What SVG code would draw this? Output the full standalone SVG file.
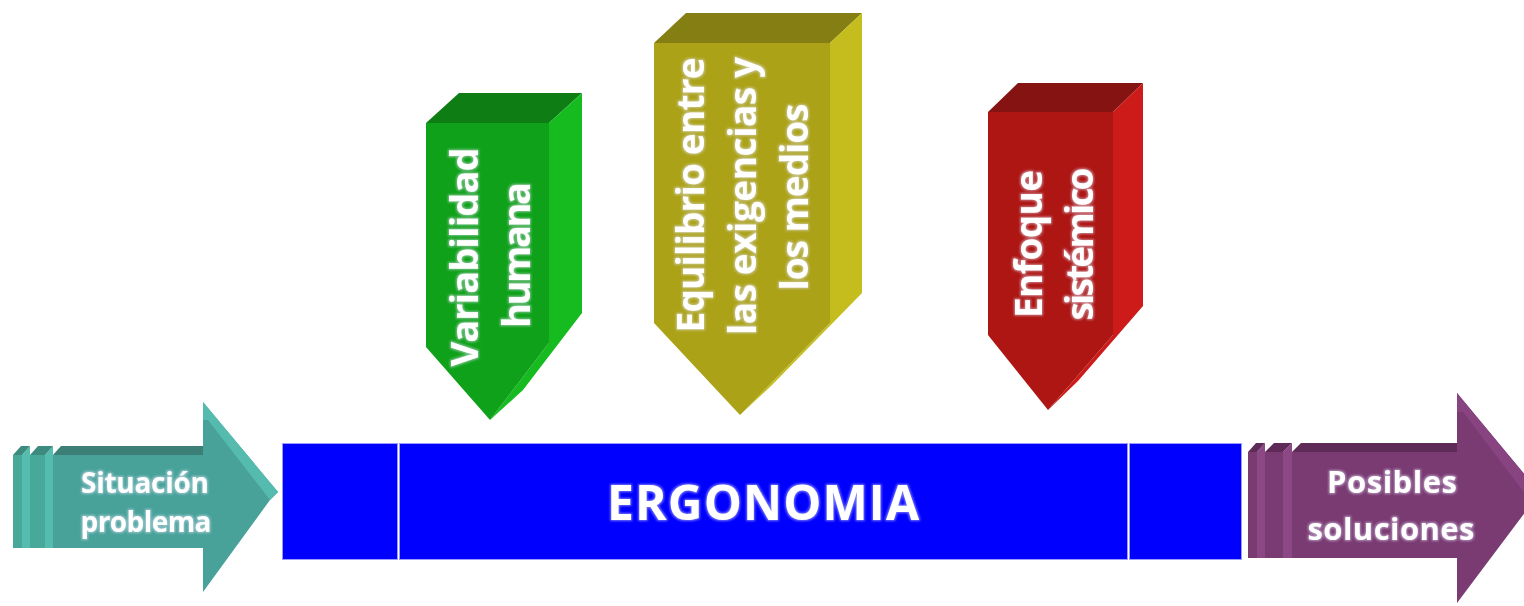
<svg xmlns="http://www.w3.org/2000/svg" width="1524" height="606" viewBox="0 0 1524 606">
<defs>
<style>
.lbl{font-family:"Open Sans","Liberation Sans",sans-serif;font-weight:bold;fill:#ffffff;text-anchor:middle;}
.glow{filter:url(#glow);}
.bar{fill:#0000ff;stroke:#9a9aff;stroke-width:1;}
</style>
<filter id="glow" x="-10%" y="-20%" width="120%" height="140%">
<feMorphology in="SourceAlpha" operator="dilate" radius="1" result="d"/>
<feGaussianBlur in="d" stdDeviation="1" result="b"/>
<feFlood flood-color="#e8e8ff" flood-opacity="0.5"/>
<feComposite in2="b" operator="in" result="g"/>
<feMerge><feMergeNode in="g"/><feMergeNode in="SourceGraphic"/></feMerge>
</filter>
</defs>
<rect width="1524" height="606" fill="#ffffff"/>

<g id="ergonomia">
<rect class="bar" x="282.5" y="443.5" width="115" height="116"/>
<rect class="bar" x="399.5" y="443.5" width="728" height="116"/>
<rect class="bar" x="1129.5" y="443.5" width="112" height="116"/>
<text class="lbl glow" x="763" y="520" font-size="48" textLength="312" lengthAdjust="spacing">ERGONOMIA</text>
</g>

<g id="situacion">
<polygon points="13,455 22,455 22,548 13,548" fill="#48a89a"/>
<polygon points="22,455 30,446 30,548 22,548" fill="#55bdaf"/>
<polygon points="13,455 21,446 30,446 22,455" fill="#3d8a7f"/>
<polygon points="30,455 45,455 45,548 30,548" fill="#48a89a"/>
<polygon points="45,455 53,446 53,548 45,548" fill="#55bdaf"/>
<polygon points="30,455 38,446 53,446 45,455" fill="#3d8a7f"/>
<polygon points="53,455 61,446 205,446 205,455" fill="#3b7f76"/>
<rect x="53" y="455" width="152" height="93" fill="#48a29a"/>
<polygon points="203,402 278,492 270,500 203,592" fill="#48a29a"/>
<polygon points="203,402 278,492 270,500 208,420 203,420" fill="#55bbae"/>
<text class="lbl glow" x="145" y="493" font-size="28" textLength="128" lengthAdjust="spacing">Situación</text>
<text class="lbl glow" x="146" y="532" font-size="28" textLength="131" lengthAdjust="spacing">problema</text>
</g>

<g id="posibles">
<polygon points="1248,452 1257,452 1257,558 1248,558" fill="#7a3a72"/>
<polygon points="1257,452 1265,443 1265,558 1257,558" fill="#8b4884"/>
<polygon points="1248,452 1256,443 1265,443 1257,452" fill="#5e2b58"/>
<polygon points="1265,452 1283,452 1283,558 1265,558" fill="#7a3a72"/>
<polygon points="1283,452 1292,443 1292,558 1283,558" fill="#8b4884"/>
<polygon points="1265,452 1274,443 1292,443 1283,452" fill="#5e2b58"/>
<polygon points="1292,452 1301,443 1459,443 1459,452" fill="#5e2b58"/>
<rect x="1292" y="452" width="167" height="106" fill="#7a3a72"/>
<polygon points="1457,393 1540,493 1532,503 1457,603" fill="#7a3a72"/>
<polygon points="1457,393 1540,493 1532,503 1463,412 1457,412" fill="#874480"/>
<text class="lbl glow" x="1392" y="493" font-size="31" textLength="130" lengthAdjust="spacing">Posibles</text>
<text class="lbl glow" x="1391" y="540" font-size="31" textLength="167" lengthAdjust="spacing">soluciones</text>
</g>

<g id="variabilidad">
<polygon points="426,123 459,93 582,93 549,123" fill="#0e7e14"/>
<polygon points="549,123 582,93 582,313 523,390 490,420 549,343" fill="#16bb20"/>
<polygon points="426,123 549,123 549,343 490,420 426,347" fill="#10a11a"/>
<g transform="translate(478,257) rotate(-90)"><text class="lbl glow" x="0" y="0" font-size="38" textLength="219" lengthAdjust="spacing">Variabilidad</text></g>
<g transform="translate(530,255) rotate(-90)"><text class="lbl glow" x="0" y="0" font-size="38" textLength="146" lengthAdjust="spacing">humana</text></g>
</g>

<g id="equilibrio">
<polygon points="654,43 686,13 862,13 830,43" fill="#857e13"/>
<polygon points="830,43 862,13 862,293 772,385 740,415 830,323" fill="#c5bd1d"/>
<polygon points="654,43 830,43 830,323 740,415 654,323" fill="#aba218"/>
<g transform="translate(704,195) rotate(-90)"><text class="lbl glow" x="0" y="0" font-size="37" textLength="275" lengthAdjust="spacing">Equilibrio entre</text></g>
<g transform="translate(756,196) rotate(-90)"><text class="lbl glow" x="0" y="0" font-size="37" textLength="278" lengthAdjust="spacing">las exigencias y</text></g>
<g transform="translate(808,197) rotate(-90)"><text class="lbl glow" x="0" y="0" font-size="37" textLength="187" lengthAdjust="spacing">los medios</text></g>
</g>

<g id="enfoque">
<polygon points="988,112 1018,83 1143,83 1113,112" fill="#851311"/>
<polygon points="1113,112 1143,83 1143,306 1078,381 1048,410 1113,335" fill="#cc1b18"/>
<polygon points="988,112 1113,112 1113,335 1048,410 988,335" fill="#ad1613"/>
<g transform="translate(1042,244) rotate(-90)"><text class="lbl glow" x="0" y="0" font-size="37" textLength="148" lengthAdjust="spacing">Enfoque</text></g>
<g transform="translate(1093,244) rotate(-90)"><text class="lbl glow" x="0" y="0" font-size="37" textLength="153" lengthAdjust="spacing">sistémico</text></g>
</g>

<g id="connectors"></g>
</svg>
